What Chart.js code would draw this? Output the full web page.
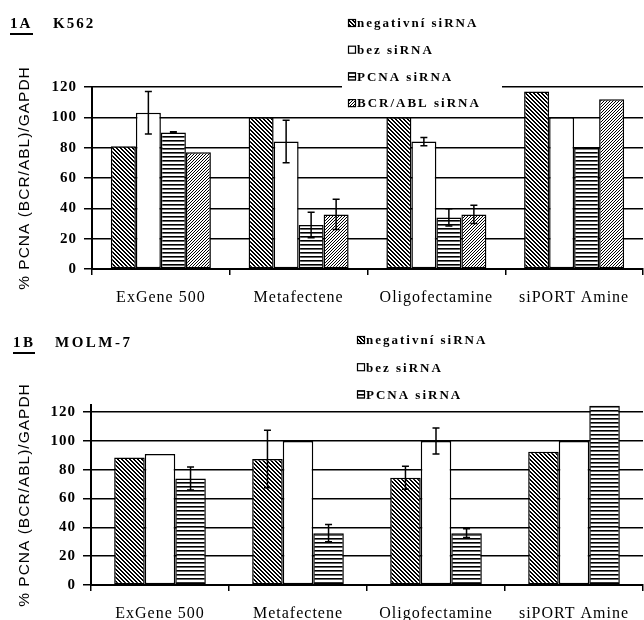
<!DOCTYPE html>
<html>
<head>
<meta charset="utf-8">
<script src="https://cdn.jsdelivr.net/npm/chart.js@4.4.1/dist/chart.umd.min.js"></script>
<style>
  html, body { margin: 0; padding: 0; background: #fff; }
  canvas { display: block; }
</style>
</head>
<body>
<canvas id="chartA" width="644" height="310"></canvas>
<canvas id="chartB" width="644" height="310"></canvas>
<script>
// categories and y ticks, shared by both panels
const categories = ['ExGene 500', 'Metafectene', 'Oligofectamine', 'siPORT Amine'];
const yTicks = [0, 20, 40, 60, 80, 100, 120];
const yTitle = '% PCNA (BCR/ABL)/GAPDH';

// 1A K562
const k562Negative = [81, 100, 100, 117];
const k562Bez = [103, 84, 84, 100];
const k562Pcna = [90, 29, 34, 80];
const k562BcrAbl = [77, 36, 36, 112];
const k562NegativeErr = [null, null, null, null];
const k562BezErr = [14, 14, 2.7, null];
const k562PcnaErr = [0.5, 8.4, 5.7, null];
const k562BcrAblErr = [null, 10, 6, null];

// 1B MOLM-7
const molmNegative = [88.5, 87.5, 74.5, 92.5];
const molmBez = [91, 100, 100, 100];
const molmPcna = [74, 36, 36, 124.5];
const molmNegativeErr = [null, 20, 8, null];
const molmBezErr = [null, null, 9, null];
const molmPcnaErr = [8, 6, 3, null];

// small tiles used as bar fills
function makePattern(kind) {
  const c = document.createElement('canvas');
  const g = c.getContext('2d');
  if (kind === 'horizontal') {
    c.width = 4; c.height = 4;
    g.fillStyle = '#fff'; g.fillRect(0, 0, 4, 4);
    g.fillStyle = '#000'; g.fillRect(0, 0, 4, 1.6);
  } else if (kind === 'back') {
    c.width = 4; c.height = 4;
    g.fillStyle = '#fff'; g.fillRect(0, 0, 4, 4);
    g.fillStyle = '#000';
    for (let i = 0; i < 4; i++) {
      g.fillRect(i, i, 1, 1);
      g.fillRect((i + 1) % 4, i, 1, 1);
    }
  } else {
    c.width = 3; c.height = 3;
    g.fillStyle = '#fff'; g.fillRect(0, 0, 3, 3);
    g.fillStyle = '#000';
    for (let i = 0; i < 3; i++) g.fillRect(2 - i, i, 1, 1);
  }
  return g.createPattern(c, 'repeat');
}

const negFill = makePattern('back');
const pcnaFill = makePattern('horizontal');
const bcrFill = makePattern('forward');

// error bars drawn from each dataset's errors array
const errorBars = {
  id: 'errorBars',
  afterDatasetsDraw(chart) {
    const ctx = chart.ctx;
    const y = chart.scales.y;
    ctx.save();
    ctx.strokeStyle = '#000';
    ctx.lineWidth = 1.5;
    chart.data.datasets.forEach((ds, di) => {
      const meta = chart.getDatasetMeta(di);
      ds.errors.forEach((e, i) => {
        if (e == null) return;
        const x = meta.data[i].x;
        const top = y.getPixelForValue(ds.data[i] + e);
        const bottom = y.getPixelForValue(ds.data[i] - e);
        ctx.beginPath();
        ctx.moveTo(x, top); ctx.lineTo(x, bottom);
        ctx.moveTo(x - 3.5, top); ctx.lineTo(x + 3.5, top);
        ctx.moveTo(x - 3.5, bottom); ctx.lineTo(x + 3.5, bottom);
        ctx.stroke();
      });
    });
    ctx.restore();
  }
};

// panel label, title and the stacked legend
const panelDecor = {
  id: 'panelDecor',
  beforeLayout(chart) { chart.ctx.letterSpacing = '1px'; },
  beforeDraw(chart) { chart.ctx.letterSpacing = '1px'; },
  afterDraw(chart, args, o) {
    const ctx = chart.ctx;
    ctx.save();
    ctx.fillStyle = '#000';
    ctx.strokeStyle = '#000';
    ctx.textBaseline = 'alphabetic';
    ctx.font = 'bold 15px "Liberation Serif"';
    ctx.letterSpacing = o.titleSpacing + 'px';
    ctx.fillText(o.label, o.labelX, o.baseline);
    ctx.fillText(o.title, o.titleX, o.baseline);
    ctx.lineWidth = 2;
    ctx.beginPath();
    ctx.moveTo(o.underline[0], o.underlineY);
    ctx.lineTo(o.underline[1], o.underlineY);
    ctx.stroke();

    if (o.box) {
      ctx.fillStyle = '#fff';
      ctx.fillRect(o.box[0], o.box[1], o.box[2], o.box[3]);
    }
    ctx.font = 'bold 13px "Liberation Serif"';
    ctx.letterSpacing = '2px';
    ctx.textBaseline = 'middle';
    ctx.lineWidth = 1.2;
    chart.data.datasets.forEach((ds, i) => {
      const cy = o.legendY0 + i * o.legendStep;
      ctx.fillStyle = ds.backgroundColor;
      ctx.fillRect(o.legendX, cy - 4, 8, 8);
      ctx.strokeRect(o.legendX + 0.5, cy - 3.5, 7, 7);
      ctx.fillStyle = '#000';
      ctx.fillText(ds.label, o.legendX + 9, cy + 1);
    });
    ctx.restore();
  }
};

function series(label, data, errors, fill) {
  return { label, data, errors, backgroundColor: fill };
}

function makeChart(id, datasets, opts) {
  return new Chart(document.getElementById(id), {
    type: 'bar',
    data: { labels: categories, datasets },
    options: {
      responsive: false,
      animation: false,
      layout: { padding: { top: opts.top, right: 1, left: 0, bottom: 0 } },
      datasets: {
        bar: {
          categoryPercentage: opts.catPct,
          barPercentage: 1,
          borderWidth: 1.5,
          borderColor: '#000',
          borderSkipped: false
        }
      },
      plugins: {
        legend: { display: false },
        tooltip: { enabled: false },
        panelDecor: opts.decor
      },
      scales: {
        x: {
          grid: { offset: true, drawOnChartArea: false, color: '#000', lineWidth: 1.5, tickLength: 6 },
          border: { color: '#000', width: 2 },
          ticks: {
            color: '#000',
            font: { family: 'Liberation Serif', size: 16 },
            padding: 13,
            maxRotation: 0,
            autoSkip: false
          },
          afterFit: s => { s.height = opts.xHeight; }
        },
        y: {
          min: 0,
          max: opts.max,
          grid: { color: '#000', lineWidth: 1.5, tickLength: 8 },
          border: { color: '#000', width: 2 },
          ticks: {
            color: '#000',
            font: { family: 'Liberation Serif', size: 15, weight: 'bold' },
            padding: 7
          },
          afterBuildTicks: s => { s.ticks = yTicks.map(v => ({ value: v })); },
          afterFit: s => { s.width = opts.yWidth; },
          title: {
            display: true,
            text: yTitle,
            color: '#000',
            font: { family: 'Liberation Sans', size: 15.5 },
            padding: { top: 15, bottom: 0 }
          }
        }
      }
    },
    plugins: [errorBars, panelDecor]
  });
}

makeChart('chartA', [
  series('negativní siRNA', k562Negative, k562NegativeErr, negFill),
  series('bez siRNA', k562Bez, k562BezErr, '#fff'),
  series('PCNA siRNA', k562Pcna, k562PcnaErr, pcnaFill),
  series('BCR/ABL siRNA', k562BcrAbl, k562BcrAblErr, bcrFill)
], {
  top: 87, xHeight: 41, yWidth: 92, max: 120, catPct: 0.726,
  decor: {
    label: '1A', title: 'K562', labelX: 10, titleX: 53, baseline: 28, titleSpacing: 2,
    underline: [10, 33], underlineY: 34,
    box: [342, 8, 160, 105],
    legendX: 348, legendY0: 23, legendStep: 26.7
  }
});

makeChart('chartB', [
  series('negativní siRNA', molmNegative, molmNegativeErr, negFill),
  series('bez siRNA', molmBez, molmBezErr, '#fff'),
  series('PCNA siRNA', molmPcna, molmPcnaErr, pcnaFill)
], {
  top: 95, xHeight: 35, yWidth: 91, max: 125, catPct: 0.664,
  decor: {
    label: '1B', title: 'MOLM-7', labelX: 13, titleX: 55, baseline: 37, titleSpacing: 2.5,
    underline: [13, 35], underlineY: 43,
    box: null,
    legendX: 357, legendY0: 30, legendStep: 27.2
  }
});
</script>
</body>
</html>
